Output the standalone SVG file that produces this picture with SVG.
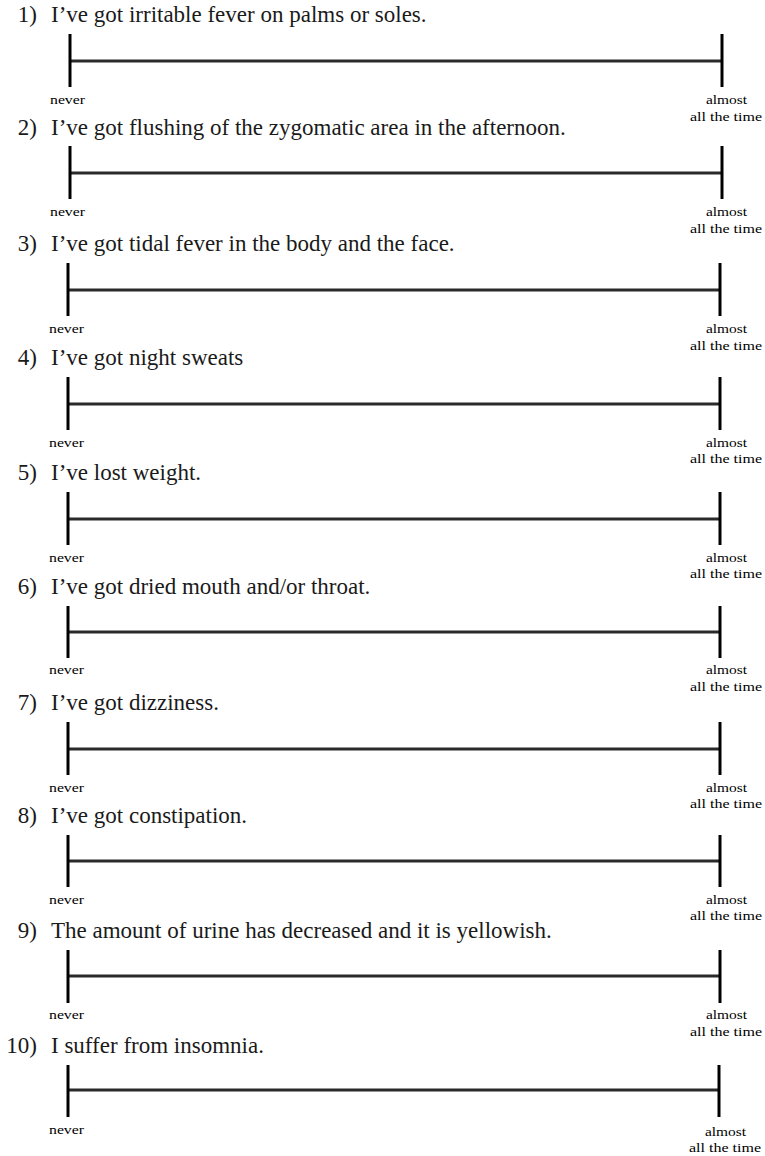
<svg xmlns="http://www.w3.org/2000/svg" width="765" height="1156" viewBox="0 0 765 1156">
<style>
.q{font-family:"Liberation Serif","Times New Roman",serif;font-size:23px;fill:#1a1a1a}
.n{text-anchor:end}
.lab{font-family:"Liberation Serif","Times New Roman",serif;font-size:11.5px;fill:#000}
.tick{stroke:#000;stroke-width:3}
.bar{stroke:#2a2a2a;stroke-width:3}
</style>
<rect width="765" height="1156" fill="#fff"/>
<g id="item1">
<text class="q n" x="37" y="22">1)</text><text class="q" x="51" y="22">I’ve got irritable fever on palms or soles.</text>
<line class="bar" x1="70" y1="61" x2="722" y2="61"/>
<line class="tick" x1="70" y1="34" x2="70" y2="87"/>
<line class="tick" x1="722" y1="34" x2="722" y2="87"/>
<text class="lab" x="50" y="104" textLength="35" lengthAdjust="spacingAndGlyphs">never</text>
<text class="lab" x="706" y="104" textLength="41" lengthAdjust="spacingAndGlyphs">almost</text>
<text class="lab" x="690" y="121" textLength="72" lengthAdjust="spacingAndGlyphs">all the time</text>
</g>
<g id="item2">
<text class="q n" x="37" y="135">2)</text><text class="q" x="51" y="135">I’ve got flushing of the zygomatic area in the afternoon.</text>
<line class="bar" x1="70" y1="173" x2="722" y2="173"/>
<line class="tick" x1="70" y1="146" x2="70" y2="199"/>
<line class="tick" x1="722" y1="146" x2="722" y2="199"/>
<text class="lab" x="50" y="216" textLength="35" lengthAdjust="spacingAndGlyphs">never</text>
<text class="lab" x="706" y="216" textLength="41" lengthAdjust="spacingAndGlyphs">almost</text>
<text class="lab" x="690" y="233" textLength="72" lengthAdjust="spacingAndGlyphs">all the time</text>
</g>
<g id="item3">
<text class="q n" x="37" y="251">3)</text><text class="q" x="51" y="251">I’ve got tidal fever in the body and the face.</text>
<line class="bar" x1="68" y1="290" x2="720" y2="290"/>
<line class="tick" x1="68" y1="263" x2="68" y2="316"/>
<line class="tick" x1="720" y1="263" x2="720" y2="316"/>
<text class="lab" x="49" y="333" textLength="35" lengthAdjust="spacingAndGlyphs">never</text>
<text class="lab" x="706" y="333" textLength="41" lengthAdjust="spacingAndGlyphs">almost</text>
<text class="lab" x="690" y="350" textLength="72" lengthAdjust="spacingAndGlyphs">all the time</text>
</g>
<g id="item4">
<text class="q n" x="37" y="365">4)</text><text class="q" x="51" y="365">I’ve got night sweats</text>
<line class="bar" x1="68" y1="404" x2="720" y2="404"/>
<line class="tick" x1="68" y1="377" x2="68" y2="430"/>
<line class="tick" x1="720" y1="377" x2="720" y2="430"/>
<text class="lab" x="49" y="447" textLength="35" lengthAdjust="spacingAndGlyphs">never</text>
<text class="lab" x="706" y="447" textLength="41" lengthAdjust="spacingAndGlyphs">almost</text>
<text class="lab" x="690" y="463" textLength="72" lengthAdjust="spacingAndGlyphs">all the time</text>
</g>
<g id="item5">
<text class="q n" x="37" y="480">5)</text><text class="q" x="51" y="480">I’ve lost weight.</text>
<line class="bar" x1="68" y1="519" x2="720" y2="519"/>
<line class="tick" x1="68" y1="492" x2="68" y2="545"/>
<line class="tick" x1="720" y1="492" x2="720" y2="545"/>
<text class="lab" x="49" y="562" textLength="35" lengthAdjust="spacingAndGlyphs">never</text>
<text class="lab" x="706" y="562" textLength="41" lengthAdjust="spacingAndGlyphs">almost</text>
<text class="lab" x="690" y="578" textLength="72" lengthAdjust="spacingAndGlyphs">all the time</text>
</g>
<g id="item6">
<text class="q n" x="37" y="594">6)</text><text class="q" x="51" y="594">I’ve got dried mouth and/or throat.</text>
<line class="bar" x1="68" y1="632" x2="720" y2="632"/>
<line class="tick" x1="68" y1="606" x2="68" y2="658"/>
<line class="tick" x1="720" y1="606" x2="720" y2="658"/>
<text class="lab" x="49" y="674" textLength="35" lengthAdjust="spacingAndGlyphs">never</text>
<text class="lab" x="706" y="674" textLength="41" lengthAdjust="spacingAndGlyphs">almost</text>
<text class="lab" x="690" y="691" textLength="72" lengthAdjust="spacingAndGlyphs">all the time</text>
</g>
<g id="item7">
<text class="q n" x="37" y="710">7)</text><text class="q" x="51" y="710">I’ve got dizziness.</text>
<line class="bar" x1="68" y1="749" x2="720" y2="749"/>
<line class="tick" x1="68" y1="722" x2="68" y2="775"/>
<line class="tick" x1="720" y1="722" x2="720" y2="775"/>
<text class="lab" x="49" y="792" textLength="35" lengthAdjust="spacingAndGlyphs">never</text>
<text class="lab" x="706" y="792" textLength="41" lengthAdjust="spacingAndGlyphs">almost</text>
<text class="lab" x="690" y="808" textLength="72" lengthAdjust="spacingAndGlyphs">all the time</text>
</g>
<g id="item8">
<text class="q n" x="37" y="823">8)</text><text class="q" x="51" y="823">I’ve got constipation.</text>
<line class="bar" x1="68" y1="861" x2="720" y2="861"/>
<line class="tick" x1="68" y1="835" x2="68" y2="887"/>
<line class="tick" x1="720" y1="835" x2="720" y2="887"/>
<text class="lab" x="49" y="904" textLength="35" lengthAdjust="spacingAndGlyphs">never</text>
<text class="lab" x="706" y="904" textLength="41" lengthAdjust="spacingAndGlyphs">almost</text>
<text class="lab" x="690" y="920" textLength="72" lengthAdjust="spacingAndGlyphs">all the time</text>
</g>
<g id="item9">
<text class="q n" x="37" y="938">9)</text><text class="q" x="51" y="938">The amount of urine has decreased and it is yellowish.</text>
<line class="bar" x1="68" y1="976" x2="720" y2="976"/>
<line class="tick" x1="68" y1="950" x2="68" y2="1003"/>
<line class="tick" x1="720" y1="950" x2="720" y2="1003"/>
<text class="lab" x="49" y="1019" textLength="35" lengthAdjust="spacingAndGlyphs">never</text>
<text class="lab" x="706" y="1019" textLength="41" lengthAdjust="spacingAndGlyphs">almost</text>
<text class="lab" x="690" y="1036" textLength="72" lengthAdjust="spacingAndGlyphs">all the time</text>
</g>
<g id="item10">
<text class="q n" x="37" y="1053">10)</text><text class="q" x="51" y="1053">I suffer from insomnia.</text>
<line class="bar" x1="68" y1="1090" x2="719" y2="1090"/>
<line class="tick" x1="68" y1="1065" x2="68" y2="1117"/>
<line class="tick" x1="719" y1="1065" x2="719" y2="1117"/>
<text class="lab" x="49" y="1134" textLength="35" lengthAdjust="spacingAndGlyphs">never</text>
<text class="lab" x="705" y="1136" textLength="41" lengthAdjust="spacingAndGlyphs">almost</text>
<text class="lab" x="689" y="1152" textLength="72" lengthAdjust="spacingAndGlyphs">all the time</text>
</g>
</svg>
